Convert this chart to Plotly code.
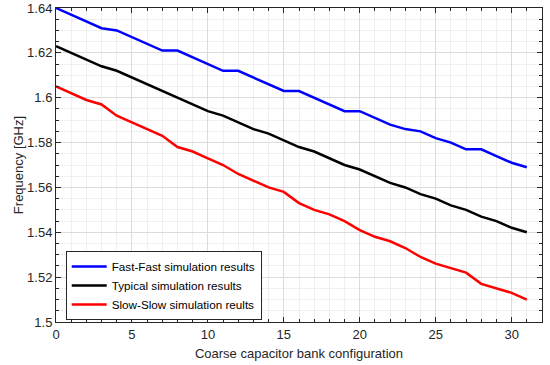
import plotly.graph_objects as go

config = list(range(32))
fast_fast = [1.640, 1.637, 1.634, 1.631, 1.630, 1.627, 1.624, 1.621, 1.621, 1.618,
             1.615, 1.612, 1.612, 1.609, 1.606, 1.603, 1.603, 1.600, 1.597, 1.594,
             1.594, 1.591, 1.588, 1.586, 1.585, 1.582, 1.580, 1.577, 1.577, 1.574,
             1.571, 1.569]
typical = [1.623, 1.620, 1.617, 1.614, 1.612, 1.609, 1.606, 1.603, 1.600, 1.597,
           1.594, 1.592, 1.589, 1.586, 1.584, 1.581, 1.578, 1.576, 1.573, 1.570,
           1.568, 1.565, 1.562, 1.560, 1.557, 1.555, 1.552, 1.550, 1.547, 1.545,
           1.542, 1.540]
slow_slow = [1.605, 1.602, 1.599, 1.597, 1.592, 1.589, 1.586, 1.583, 1.578, 1.576,
             1.573, 1.570, 1.566, 1.563, 1.560, 1.558, 1.553, 1.550, 1.548, 1.545,
             1.541, 1.538, 1.536, 1.533, 1.529, 1.526, 1.524, 1.522, 1.517, 1.515,
             1.513, 1.510]
names = ["Fast-Fast simulation results", "Typical simulation results", "Slow-Slow simulation reults"]
colors = ["#0000ff", "#000000", "#ff0000"]
x_ticks = [0, 5, 10, 15, 20, 25, 30]
y_ticks = [1.5, 1.52, 1.54, 1.56, 1.58, 1.6, 1.62, 1.64]
y_labels = ["1.5", "1.52", "1.54", "1.56", "1.58", "1.6", "1.62", "1.64"]

FONT = "Arial, Liberation Sans, sans-serif"

fig = go.Figure()
for ys, nm, c in zip([fast_fast, typical, slow_slow], names, colors):
    fig.add_trace(go.Scatter(x=config, y=ys, mode="lines", name=nm,
                             line=dict(color=c, width=2.5)))

axis_common = dict(
    showline=True, linecolor="#262626", linewidth=1, mirror="ticks",
    ticks="inside", ticklen=5, tickcolor="#262626",
    showgrid=True, gridcolor="#dcdcdc", gridwidth=1,
    zeroline=False, automargin=False,
    tickfont=dict(family=FONT, size=13, color="#262626"),
)

fig.update_xaxes(
    range=[0, 32], tickvals=x_ticks,
    title=dict(text="Coarse capacitor bank configuration",
               font=dict(family=FONT, size=13, color="#262626"),
               standoff=8),
    minor=dict(dtick=1, ticks="inside", ticklen=3, tickcolor="#262626",
               showgrid=True, gridcolor="#efefef", gridwidth=1),
    **axis_common,
)
fig.update_yaxes(
    range=[1.5, 1.64], tickvals=y_ticks, ticktext=y_labels,
    title=dict(text="Frequency [GHz]",
               font=dict(family=FONT, size=13, color="#262626"),
               standoff=0),
    minor=dict(dtick=0.005, ticks="inside", ticklen=3, tickcolor="#262626",
               showgrid=True, gridcolor="#efefef", gridwidth=1),
    **axis_common,
)

fig.update_layout(
    width=550, height=365,
    margin=dict(l=56, r=8, t=8, b=43),
    paper_bgcolor="white", plot_bgcolor="white",
    showlegend=True,
    hovermode=False,
    legend=dict(x=0.02, y=0.006, xanchor="left", yanchor="bottom",
                bgcolor="white", bordercolor="#262626", borderwidth=1,
                font=dict(family=FONT, size=11.7, color="#000000"),
                tracegroupgap=0, itemwidth=35),
)

fig.write_html("out.html", config={"displayModeBar": False},
               post_script="document.body.style.margin='0';")
